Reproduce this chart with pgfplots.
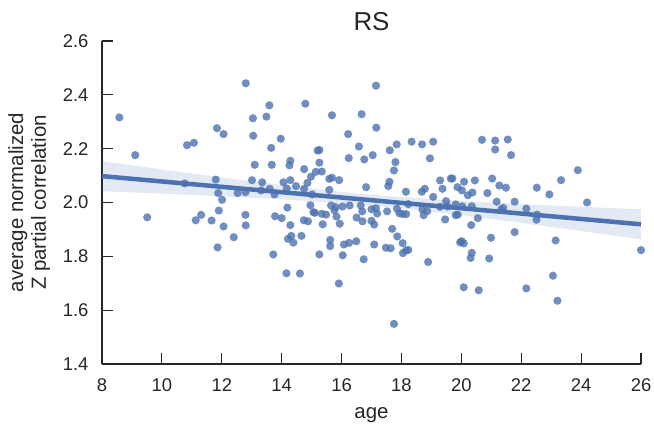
\documentclass[border=0pt]{standalone}
\usepackage{fontspec}
\setmainfont{Liberation Sans}
\usepackage{pgfplots}
\pgfplotsset{compat=1.18}
\definecolor{sbblue}{HTML}{4C72B0}
\definecolor{axgray}{HTML}{262626}
\begin{document}
\begin{tikzpicture}
\begin{axis}[
  scale only axis,
  width=539bp, height=323bp,
  xmin=8, xmax=26, ymin=1.4, ymax=2.6,
  xtick={8,10,...,26},
  ytick={1.4,1.6,...,2.61},
  yticklabel style={/pgf/number format/fixed,/pgf/number format/fixed zerofill,/pgf/number format/precision=1, xshift=-10bp},
  xticklabel style={yshift=-11bp},
  /pgf/number format/assume math mode=true,
  axis lines*=left,
  tick align=inside,
  major tick length=11bp,
  axis line style={axgray, line width=1.2bp},
  every tick/.style={axgray, line width=1.2bp},
  ticklabel style={font=\fontsize{18.5}{20}\selectfont, text=axgray},
  label style={font=\fontsize{20.5}{23}\selectfont, text=axgray},
  title style={font=\fontsize{26}{28}\selectfont, text=axgray, yshift=1bp},
  title={RS},
  xlabel={age},
  ylabel={average normalized\\Z partial correlation},
  ylabel style={align=center, at={(axis description cs:-0.135,0.5)}, anchor=center},
  xlabel style={at={(axis description cs:0.5,-0.158)}, anchor=center},
  clip=false,
]
\addplot[only marks, color=sbblue, mark=*, mark size=4.1bp, mark options={fill=sbblue, draw opacity=0, fill opacity=0.8}] coordinates {
(8.58,2.316)(9.11,2.176)(9.51,1.945)(10.76,2.071)(10.84,2.213)(11.07,2.222)(11.13,1.934)(11.31,1.954)
(11.66,1.933)(11.80,2.085)(11.84,2.276)(11.88,2.035)(11.90,1.970)(11.86,1.833)(12.01,2.010)(12.06,2.254)
(12.06,1.911)(12.40,1.871)(12.53,2.035)(12.79,2.038)(12.80,2.443)(12.79,1.954)(12.80,1.915)(13.01,2.083)
(13.04,2.313)(13.05,2.248)(13.10,2.140)(13.31,2.045)(13.35,2.075)(13.49,2.319)(13.59,2.361)(13.65,2.203)
(13.67,2.140)(13.60,2.051)(13.76,2.030)(13.78,1.949)(13.72,1.807)(13.97,2.237)(14.79,2.367)(14.29,2.155)
(14.26,2.138)(14.75,2.124)(15.20,2.193)(15.26,2.195)(15.26,2.148)(15.34,2.115)(15.14,2.114)(14.98,2.096)
(14.86,2.073)(14.06,2.075)(14.29,2.083)(14.48,2.061)(14.75,2.051)(14.17,2.052)(15.02,2.030)(14.19,1.981)
(14.96,1.990)(14.00,1.942)(14.29,1.916)(14.74,1.934)(14.88,1.930)(15.06,1.964)(15.34,1.958)(15.37,1.919)
(14.32,1.876)(14.21,1.865)(14.39,1.851)(14.66,1.876)(15.26,1.807)(14.16,1.737)(14.61,1.736)(15.68,2.324)
(16.67,2.328)(17.15,2.434)(17.16,2.278)(16.22,2.254)(16.58,2.208)(16.24,2.165)(16.76,2.160)(17.04,2.176)
(15.68,2.092)(15.59,2.088)(15.92,2.083)(15.59,2.047)(16.82,2.057)(17.61,2.194)(17.84,2.216)(18.34,2.226)
(18.69,2.216)(19.06,2.226)(18.95,2.164)(17.80,2.150)(17.75,2.119)(17.60,2.077)(17.56,2.061)(18.15,2.040)
(18.68,2.040)(18.78,2.051)(19.29,2.082)(19.65,2.089)(19.70,2.089)(19.37,2.051)(19.87,2.057)(19.06,2.021)
(19.49,2.005)(15.65,1.989)(15.80,1.983)(15.76,1.971)(15.83,1.948)(15.94,1.921)(16.03,1.985)(16.27,1.989)
(16.50,1.944)(16.64,1.989)(16.69,1.967)(16.70,1.930)(17.00,1.975)(17.00,1.932)(17.09,1.918)(17.15,1.979)
(17.19,1.959)(17.52,1.967)(17.69,1.902)(17.85,1.977)(17.93,1.960)(18.04,1.957)(18.16,1.957)(18.23,1.994)
(17.86,1.874)(18.04,1.849)(18.15,1.822)(18.05,1.812)(18.23,1.824)(18.74,1.953)(18.86,1.968)(19.46,1.937)
(19.54,1.985)(19.81,1.993)(15.11,1.962)(15.48,1.955)(15.62,1.861)(15.62,1.838)(16.08,1.844)(16.25,1.850)
(16.49,1.856)(17.09,1.844)(17.48,1.832)(17.64,1.830)(16.04,1.804)(16.74,1.789)(15.91,1.699)(17.75,1.549)
(18.89,1.779)(19.96,1.852)(20.69,2.233)(21.13,2.230)(21.13,2.197)(21.55,2.234)(21.66,2.176)(20.09,2.077)
(20.02,2.045)(20.22,2.027)(20.37,2.037)(20.45,2.082)(20.87,2.035)(21.03,2.089)(21.27,2.063)(21.49,2.055)
(21.18,2.003)(20.03,1.986)(20.35,1.986)(20.55,1.942)(20.33,1.916)(20.99,1.869)(19.81,1.953)(19.88,1.955)
(19.29,1.984)(18.70,1.974)(20.01,1.856)(20.08,1.848)(20.35,1.813)(20.31,1.794)(20.93,1.792)(20.08,1.685)
(20.58,1.674)(21.40,1.980)(23.89,2.120)(23.33,2.083)(22.52,2.055)(22.94,2.030)(24.20,2.000)(21.78,2.003)
(21.33,1.974)(22.17,1.977)(22.53,1.955)(22.51,1.936)(21.78,1.890)(23.15,1.859)(23.06,1.728)(23.21,1.635)
(22.17,1.681)(26.00,1.823)
};
\addplot[fill=sbblue, fill opacity=0.15, draw=none] coordinates {
(8,2.154)(10,2.123)(12,2.093)(14,2.065)(16,2.039)(17,2.029)(18,2.020)(20,2.006)(22,1.994)(24,1.984)(26,1.975)
(26,1.863)(24,1.894)(22,1.924)(20,1.953)(18,1.978)(17,1.989)(16,1.997)(14,2.012)(12,2.023)(10,2.033)(8,2.042)
} -- cycle;
\addplot[sbblue, line width=4.5bp] coordinates {(8,2.098)(26,1.919)};
\end{axis}
\pgfresetboundingbox
\path ([shift={(-102bp,-63bp)}]current axis.south west) rectangle ([shift={(552bp,364bp)}]current axis.south west);
\end{tikzpicture}
\end{document}
